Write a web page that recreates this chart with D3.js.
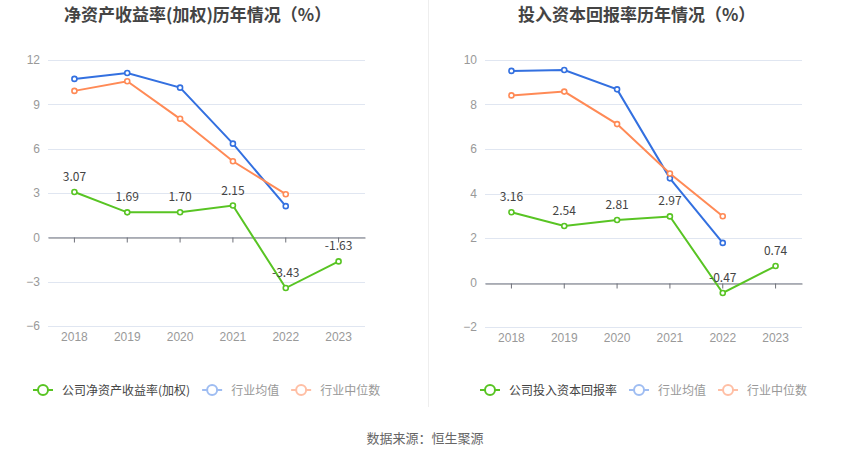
<!DOCTYPE html>
<html lang="zh">
<head>
<meta charset="utf-8">
<title>ROE / ROIC</title>
<style>
  body { margin: 0; background: #fff; }
  svg { display: block; font-family: "Noto Sans CJK SC", "Noto Sans", sans-serif; }
  .grid line { stroke: #e0e6f1; }
  .axis text { fill: #999; font-size: 12px; }
</style>
</head>
<body>
<script src="https://cdn.jsdelivr.net/npm/d3@7/dist/d3.min.js"></script>
<script>
var years = ["2018", "2019", "2020", "2021", "2022", "2023"];

// left: ROE (weighted)
var roeCompany = [3.07, 1.69, 1.70, 2.15, -3.43, -1.63];
var roeMean = [10.72, 11.12, 10.13, 6.34, 2.11];
var roeMedian = [9.91, 10.56, 8.02, 5.15, 2.92];
var roeTicks = [-6, -3, 0, 3, 6, 9, 12];

// right: ROIC
var roicCompany = [3.16, 2.54, 2.81, 2.97, -0.47, 0.74];
var roicMean = [9.51, 9.55, 8.68, 4.68, 1.78];
var roicMedian = [8.41, 8.58, 7.12, 4.90, 2.98];
var roicTicks = [-2, 0, 2, 4, 6, 8, 10];

var green = "#58c423", blue = "#3370e0", orange = "#ff8a56";
var blueLight = "#9fbdf2", orangeLight = "#ffbfa5";

var W = 850, H = 459;
var svg = d3.select("body").append("svg").attr("width", W).attr("height", H);

// separator
svg.append("line").attr("x1", 428.5).attr("x2", 428.5).attr("y1", 0).attr("y2", 407)
  .attr("stroke", "#eee");

function panel(opt) {
  var x = d3.scaleBand().domain(years).range([opt.x0, opt.x1]);
  var y = d3.scaleLinear().domain(d3.extent(opt.ticks)).range([opt.y1, opt.y0]);
  var cx = function(i) { return x(years[i]) + x.bandwidth() / 2; };
  var g = svg.append("g");

  // title
  g.append("text").attr("x", opt.titleX).attr("y", 21)
    .attr("font-size", 17).attr("font-weight", "bold").attr("fill", "#444")
    .text(opt.title);

  // grid
  g.append("g").attr("class", "grid").selectAll("line").data(opt.ticks).enter().append("line")
    .attr("x1", opt.x0).attr("x2", opt.x1)
    .attr("y1", function(d) { return Math.round(y(d)) + 0.5; })
    .attr("y2", function(d) { return Math.round(y(d)) + 0.5; });

  // y axis labels
  var ya = d3.axisLeft(y).tickValues(opt.ticks).tickSize(0).tickPadding(8);
  g.append("g").attr("class", "axis").attr("transform", "translate(" + opt.x0 + ",0)").call(ya)
    .call(function(s) { s.select(".domain").remove(); });

  // x axis on zero
  var xa = d3.axisBottom(x).tickSize(5).tickSizeOuter(0).tickPadding(0);
  var xg = g.append("g").attr("class", "axis")
    .attr("transform", "translate(0," + (Math.round(y(0)) + 0.5) + ")").call(xa);
  xg.select(".domain").attr("stroke", "#6e7079");
  xg.selectAll(".tick line").attr("stroke", "#6e7079");
  xg.selectAll(".tick text").attr("y", opt.y1 + 14 - Math.round(y(0))).attr("dy", "0");

  function series(vals, color) {
    var line = d3.line().x(function(d, i) { return cx(i); }).y(function(d) { return y(d); });
    g.append("path").attr("d", line(vals)).attr("fill", "none")
      .attr("stroke", color).attr("stroke-width", 2);
    g.selectAll(null).data(vals).enter().append("circle")
      .attr("cx", function(d, i) { return cx(i); }).attr("cy", function(d) { return y(d); })
      .attr("r", 2.5).attr("fill", "#fff").attr("stroke", color).attr("stroke-width", 1.6);
  }
  series(opt.mean, blue);
  series(opt.median, orange);
  series(opt.company, green);

  g.selectAll(null).data(opt.company).enter().append("text")
    .attr("x", function(d, i) { return cx(i); })
    .attr("y", function(d) { return y(d) - 11; })
    .attr("text-anchor", "middle").attr("font-size", 12).attr("fill", "#444")
    .text(function(d) { return d.toFixed(2); });

  // legend
  var items = [
    { name: opt.companyName, color: green, text: "#444" },
    { name: "行业均值", color: blueLight, text: "#999" },
    { name: "行业中位数", color: orangeLight, text: "#999" }
  ];
  var lx = opt.legendX, ly = 390;
  items.forEach(function(it) {
    var lg = g.append("g").attr("transform", "translate(" + lx + "," + ly + ")");
    lg.append("line").attr("x1", 0).attr("x2", 20).attr("y1", 0).attr("y2", 0)
      .attr("stroke", it.color).attr("stroke-width", 2);
    lg.append("circle").attr("cx", 10).attr("cy", 0).attr("r", 5)
      .attr("fill", "#fff").attr("stroke", it.color).attr("stroke-width", 2);
    var t = lg.append("text").attr("x", 29).attr("y", 4.5).attr("font-size", 12)
      .attr("fill", it.text).text(it.name);
    lx += 29 + t.node().getComputedTextLength() + 12;
  });
}

panel({
  title: "净资产收益率(加权)历年情况（%）", titleX: 64,
  x0: 48, x1: 365, y0: 60, y1: 326,
  ticks: roeTicks, company: roeCompany, mean: roeMean, median: roeMedian,
  companyName: "公司净资产收益率(加权)", legendX: 33
});

panel({
  title: "投入资本回报率历年情况（%）", titleX: 518,
  x0: 485, x1: 802, y0: 60, y1: 327,
  ticks: roicTicks, company: roicCompany, mean: roicMean, median: roicMedian,
  companyName: "公司投入资本回报率", legendX: 480
});

svg.append("text").attr("x", 425).attr("y", 443).attr("text-anchor", "middle")
  .attr("font-size", 13).attr("fill", "#666").text("数据来源：恒生聚源");
</script>
</body>
</html>
